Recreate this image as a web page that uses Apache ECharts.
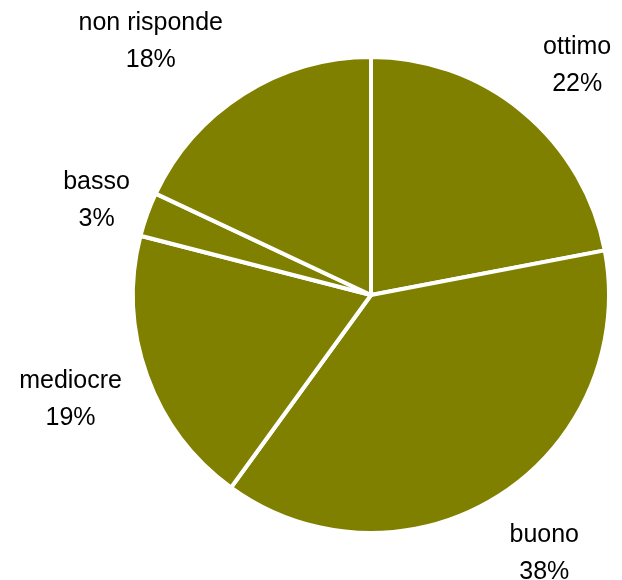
<!DOCTYPE html>
<html>
<head>
<meta charset="utf-8">
<script src="https://cdn.jsdelivr.net/npm/echarts@6/dist/echarts.min.js"></script>
<style>
  html, body { margin: 0; padding: 0; background: #fff; }
  #chart { width: 622px; height: 580px; }
</style>
</head>
<body>
<div id="chart"></div>
<script>
// categories and shares (%), clockwise from 12 o'clock
const categories = ['ottimo', 'buono', 'mediocre', 'basso', 'non risponde'];
const shares = [22, 38, 19, 3, 18];

const pieData = categories.map((name, i) => ({ name: name, value: shares[i] }));

// small hand nudges of the labels (px), like the manual placement in the original
const labelNudge = [[6, 13], [5, -7], [-5, -2], [21, 12], [-52, 12]];

const chart = echarts.init(document.getElementById('chart'));

const option = {
  animation: false,
  series: [
    {
      // the real slices
      type: 'pie',
      center: [371, 295],
      radius: [0, 238],
      startAngle: 90,
      clockwise: true,
      color: ['#808000'],
      itemStyle: { borderColor: '#ffffff', borderWidth: 4 },
      label: { show: false },
      labelLine: { show: false },
      emphasis: { disabled: true },
      silent: true,
      data: pieData
    },
    {
      // invisible ring, only used to place the labels along each slice's middle angle
      type: 'pie',
      center: [371, 295],
      radius: [272, 350],
      startAngle: 90,
      clockwise: true,
      itemStyle: { color: 'transparent', borderWidth: 0 },
      label: {
        show: true,
        position: 'inside',
        formatter: '{b}\n{c}%',
        fontFamily: 'Liberation Sans, Arial, sans-serif',
        fontSize: 25,
        lineHeight: 37,
        color: '#000000'
      },
      labelLayout: function (params) {
        const n = labelNudge[params.dataIndex];
        return { dx: n[0], dy: n[1] };
      },
      labelLine: { show: false },
      emphasis: { disabled: true },
      silent: true,
      data: pieData
    }
  ]
};

chart.setOption(option);
</script>
</body>
</html>
